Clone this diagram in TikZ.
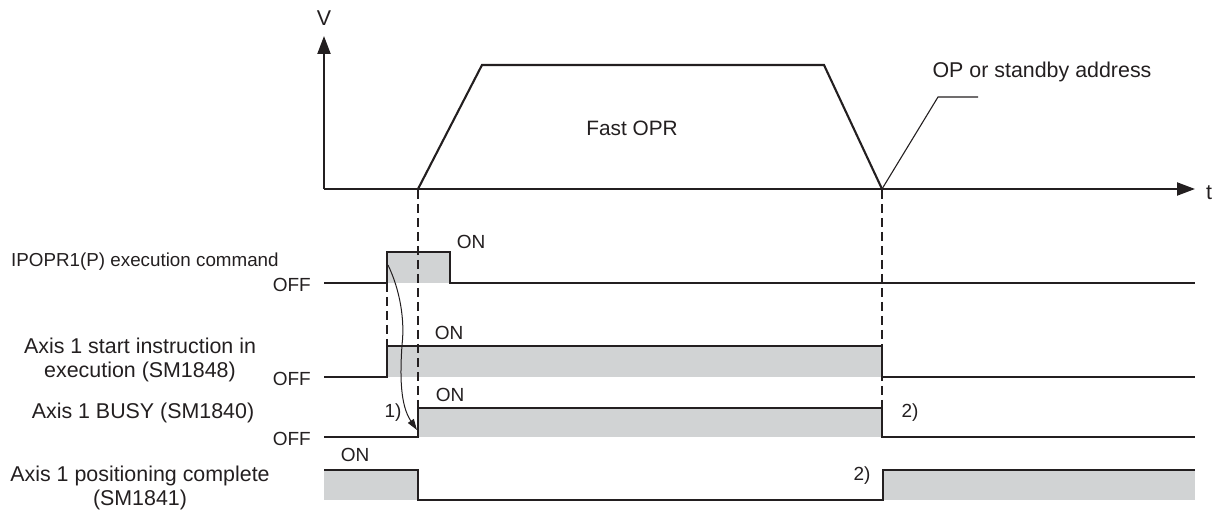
\documentclass[tikz,border=0pt]{standalone}
\usepackage{fontspec}
\setmainfont{Liberation Sans}
\usetikzlibrary{arrows.meta}
\definecolor{ink}{HTML}{231F20}
\definecolor{sig}{HTML}{D1D3D4}
\begin{document}
\begin{tikzpicture}[x=1pt,y=-1pt,
  axis/.style={draw=ink,line width=2.1pt,-{Triangle[length=18pt,width=13pt]}},
  wave/.style={draw=ink,line width=2.1pt,line join=miter},
  guide/.style={draw=ink,line width=1.8pt,dash pattern=on 9pt off 5pt},
  onfill/.style={fill=sig},
  big/.style={font=\fontsize{21.4}{24.5}\selectfont,text=ink,inner sep=0pt},
  lvl/.style={font=\fontsize{19}{21}\selectfont,text=ink,inner sep=0pt},
]
\useasboundingbox (0,0) rectangle (1219,510);
% axes
\coordinate (O) at (324,189);
\coordinate (Vtop) at (324,36);
\coordinate (Tend) at (1195,189);
\draw[axis] (O) -- (Vtop);
\draw[axis] (O) -- (Tend);
\node[big] (V) at (324,18) {V};
\node[big] (t) at (1209,193) {t};
% trapezoid
\coordinate (a0) at (418,189);
\coordinate (a1) at (482,65);
\coordinate (a2) at (824,65);
\coordinate (a3) at (882,189);
\coordinate (b1) at (938,97);
\coordinate (b2) at (978,97);
\draw[wave] (a0) -- (a1) -- (a2) -- (a3);
\draw[draw=ink,line width=1.1pt] (a3) -- (b1) -- (b2);
\node[big,font=\fontsize{20.8}{24}\selectfont] (fast) at (632,128) {Fast OPR};
\node[big] (op) at (1042,72) {OP or standby address};
% fills
\fill[onfill] (387,252) rectangle (450,283);
\fill[onfill] (387,346) rectangle (881,377);
\fill[onfill] (418,408) rectangle (881,437);
\fill[onfill] (324,470) rectangle (418,500);
\fill[onfill] (883,470) rectangle (1195,500);
% guides
\coordinate (g1t) at (418,190);
\coordinate (g1b) at (418,408);
\coordinate (g2t) at (882,190);
\coordinate (g2b) at (882,408);
\coordinate (g3t) at (387,283);
\coordinate (g3b) at (387,346);
\draw[guide] (g1t) -- (g1b);
\draw[guide] (g2t) -- (g2b);
\draw[guide] (g3t) -- (g3b);
% waves
\draw[wave] (324,283) -- (387,283) -- (387,252) -- (450,252) -- (450,283) -- (1195,283);
\draw[wave] (324,377) -- (387,377) -- (387,346) -- (882,346) -- (882,377) -- (1195,377);
\draw[wave] (324,437) -- (418,437) -- (418,408) -- (882,408) -- (882,437) -- (1195,437);
\draw[wave] (324,470) -- (418,470) -- (418,500) -- (883,500) -- (883,470) -- (1195,470);
% curved arrow
\coordinate (c0) at (388,265);
\coordinate (c1) at (417,430);
\draw[draw=ink,line width=1pt,-{Triangle[length=11pt,width=7pt]}] (c0) .. controls (400,290) and (405,320) .. (402,345) .. controls (400,375) and (400,405) .. (c1);
% labels
\node[font=\fontsize{18.8}{21}\selectfont,text=ink,inner sep=0pt,anchor=west] (l1) at (11,262) {IPOPR1(P) execution command};
\node[big,align=center] (l2) at (140,360) {Axis 1 start instruction in\\execution (SM1848)};
\node[big] (l3) at (143,413) {Axis 1 BUSY (SM1840)};
\node[big,align=center] (l4) at (140,488) {Axis 1 positioning complete\\(SM1841)};
\node[lvl,anchor=east] (off1) at (311,285) {OFF};
\node[lvl,anchor=east] (off2) at (311,379) {OFF};
\node[lvl,anchor=east] (off3) at (311,439) {OFF};
\node[lvl] (on1) at (471,242) {ON};
\node[lvl] (on2) at (449,333) {ON};
\node[lvl] (on3) at (450,395) {ON};
\node[lvl] (on4) at (355,455) {ON};
\node[lvl] (n1) at (393,413) {1)};
\node[lvl] (n2) at (910,413) {2)};
\node[lvl] (n3) at (862,476) {2)};
\end{tikzpicture}
\end{document}
